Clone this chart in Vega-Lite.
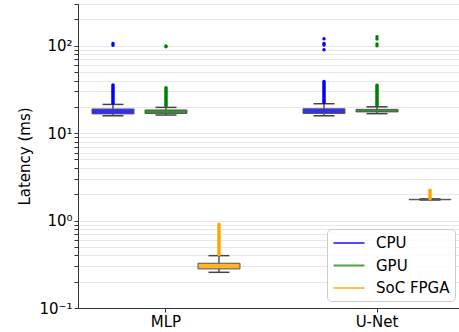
{
  "$schema": "https://vega.github.io/schema/vega-lite/v6.json",
  "width": 381,
  "height": 304,
  "autosize": {"type": "none"},
  "padding": {"left": 78, "top": 4, "right": 0, "bottom": 24},
  "config": {
    "font": "DejaVu Sans",
    "view": {"stroke": "#333333", "strokeWidth": 1},
    "axis": {"labelFont": "DejaVu Sans", "titleFont": "DejaVu Sans", "labelFontSize": 15, "titleFontSize": 15, "titleFontWeight": "normal", "labelColor": "#000000", "titleColor": "#000000", "domainColor": "#333333", "tickColor": "#333333"},
    "legend": {"labelFont": "DejaVu Sans", "labelFontSize": 15, "labelColor": "#000000"}
  },
  "datasets": {
    "stats": [
      {"model": "MLP", "device": "CPU", "lo": 15.8, "q1": 16.6, "q3": 18.9, "hi": 21.3},
      {"model": "MLP", "device": "GPU", "lo": 16.1, "q1": 16.8, "q3": 18.4, "hi": 19.7},
      {"model": "MLP", "device": "SoC FPGA", "lo": 0.256, "q1": 0.28, "q3": 0.325, "hi": 0.397},
      {"model": "U-Net", "device": "CPU", "lo": 15.8, "q1": 16.8, "q3": 19.0, "hi": 21.7},
      {"model": "U-Net", "device": "GPU", "lo": 16.7, "q1": 17.5, "q3": 18.7, "hi": 20.0},
      {"model": "U-Net", "device": "SoC FPGA", "lo": 1.72, "q1": 1.73, "q3": 1.75, "hi": 1.77}
    ],
    "dense": [
      {"model": "MLP", "device": "CPU", "from": 22.0, "to": 35.5},
      {"model": "MLP", "device": "GPU", "from": 20.5, "to": 33.0},
      {"model": "MLP", "device": "SoC FPGA", "from": 0.41, "to": 0.78},
      {"model": "U-Net", "device": "CPU", "from": 22.4, "to": 39.0},
      {"model": "U-Net", "device": "GPU", "from": 20.8, "to": 35.2},
      {"model": "U-Net", "device": "SoC FPGA", "from": 1.78, "to": 2.22}
    ],
    "points": [
      {"model": "MLP", "device": "CPU", "value": 106},
      {"model": "MLP", "device": "CPU", "value": 101},
      {"model": "MLP", "device": "GPU", "value": 99},
      {"model": "MLP", "device": "GPU", "value": 97},
      {"model": "MLP", "device": "SoC FPGA", "value": 0.83},
      {"model": "MLP", "device": "SoC FPGA", "value": 0.87},
      {"model": "MLP", "device": "SoC FPGA", "value": 0.91},
      {"model": "U-Net", "device": "CPU", "value": 120},
      {"model": "U-Net", "device": "CPU", "value": 106},
      {"model": "U-Net", "device": "CPU", "value": 102},
      {"model": "U-Net", "device": "CPU", "value": 90},
      {"model": "U-Net", "device": "GPU", "value": 127},
      {"model": "U-Net", "device": "GPU", "value": 119},
      {"model": "U-Net", "device": "GPU", "value": 105},
      {"model": "U-Net", "device": "GPU", "value": 100}
    ]
  },
  "encoding": {
    "x": {"field": "model", "type": "nominal", "scale": {"domain": ["MLP", "U-Net"], "paddingInner": 0.2464, "paddingOuter": 0.026, "align": 0.773}, "axis": {"title": null, "labelAngle": 0, "tickSize": 4, "labelPadding": 2, "grid": false}},
    "xOffset": {"field": "device", "type": "nominal", "scale": {"domain": ["CPU", "GPU", "SoC FPGA"], "paddingInner": 0, "paddingOuter": 0}}
  },
  "layer": [
    {
      "data": {"name": "stats"},
      "mark": {"type": "rule", "color": "#000000", "strokeWidth": 1},
      "encoding": {
        "y": {"field": "lo", "type": "quantitative", "scale": {"type": "log", "domain": [0.1, 300], "nice": false},
          "axis": {"title": "Latency (ms)", "titlePadding": 6, "values": [0.1, 0.2, 0.3, 0.4, 0.5, 0.6, 0.7, 0.8, 0.9, 1, 2, 3, 4, 5, 6, 7, 8, 9, 10, 20, 30, 40, 50, 60, 70, 80, 90, 100, 200, 300],
            "labelExpr": "datum.value == 100 ? '10²' : datum.value == 10 ? '10¹' : datum.value == 1 ? '10⁰' : datum.value == 0.1 ? '10⁻¹' : ''",
            "labelOverlap": false, "labelFlush": false, "labelPadding": 2, "grid": true, "gridColor": "#e8e8e8", "gridWidth": 1.2, "tickSize": 4}},
        "y2": {"field": "q1"}
      }
    },
    {
      "data": {"name": "stats"},
      "mark": {"type": "rule", "color": "#000000", "strokeWidth": 1},
      "encoding": {
        "y": {"field": "q3", "type": "quantitative", "scale": {"type": "log", "domain": [0.1, 300], "nice": false}},
        "y2": {"field": "hi"}
      }
    },
    {
      "data": {"name": "stats"},
      "mark": {"type": "tick", "color": "#444444", "size": 21, "thickness": 1.5, "opacity": 1},
      "encoding": {
        "y": {"field": "lo", "type": "quantitative", "scale": {"type": "log", "domain": [0.1, 300], "nice": false}}
      }
    },
    {
      "data": {"name": "stats"},
      "mark": {"type": "tick", "color": "#444444", "size": 21, "thickness": 1.5, "opacity": 1},
      "encoding": {
        "y": {"field": "hi", "type": "quantitative", "scale": {"type": "log", "domain": [0.1, 300], "nice": false}}
      }
    },
    {
      "data": {"name": "stats"},
      "mark": {"type": "bar", "size": 42, "fillOpacity": 0.82, "stroke": "#555555", "strokeWidth": 1},
      "encoding": {
        "y": {"field": "q1", "type": "quantitative", "scale": {"type": "log", "domain": [0.1, 300], "nice": false}},
        "y2": {"field": "q3"},
        "color": {"field": "device", "type": "nominal", "scale": {"domain": ["CPU", "GPU", "SoC FPGA"], "range": ["#0000ff", "#008000", "#ffa500"]}}
      }
    },
    {
      "data": {"name": "dense"},
      "mark": {"type": "rule", "strokeWidth": 3.5, "strokeCap": "round"},
      "encoding": {
        "y": {"field": "from", "type": "quantitative", "scale": {"type": "log", "domain": [0.1, 300], "nice": false}},
        "y2": {"field": "to"},
        "color": {"field": "device", "type": "nominal", "scale": {"domain": ["CPU", "GPU", "SoC FPGA"], "range": ["#0000ff", "#008000", "#ffa500"]},
          "legend": {"title": null, "orient": "none", "legendX": 249, "legendY": 225, "symbolType": "M-2,0H2", "symbolSize": 240, "symbolStrokeWidth": 2, "symbolOpacity": 0.7, "symbolOffset": 8, "labelOffset": 18, "rowPadding": 5.5, "padding": 5, "strokeColor": "#cccccc", "cornerRadius": 4, "fillColor": "rgba(255,255,255,0.8)"}}
      }
    },
    {
      "data": {"name": "points"},
      "mark": {"type": "point", "filled": true, "size": 12, "opacity": 1},
      "encoding": {
        "y": {"field": "value", "type": "quantitative", "scale": {"type": "log", "domain": [0.1, 300], "nice": false}},
        "color": {"field": "device", "type": "nominal", "scale": {"domain": ["CPU", "GPU", "SoC FPGA"], "range": ["#0000ff", "#008000", "#ffa500"]}}
      }
    }
  ]
}
